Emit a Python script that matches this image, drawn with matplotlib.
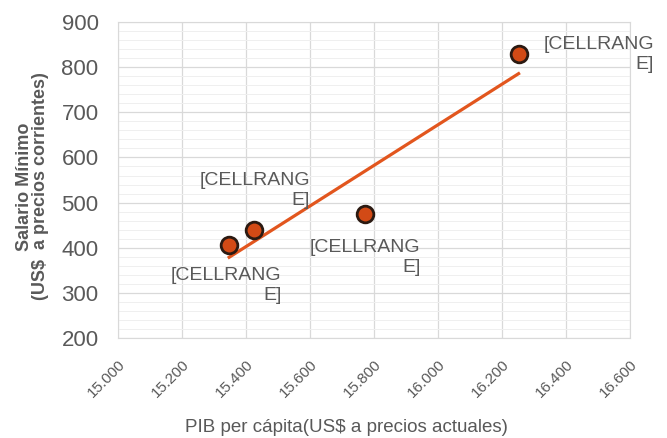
import numpy as np
import matplotlib.pyplot as plt
from matplotlib.ticker import MultipleLocator, FuncFormatter

plt.rcParams['font.family'] = ['Liberation Sans', 'DejaVu Sans']

# data
pib = [15347, 15426, 15772, 16251]
salario = [407, 439, 475, 828]
etiqueta = "[CELLRANG\nE]"

gray = "#595959"
grid_c = "#d9d9d9"

fig = plt.figure(figsize=(6.67, 4.38), dpi=100)
ax = fig.add_axes([0.177, 0.228, 0.768, 0.722])

# linear trend
m, b = np.polyfit(pib, salario, 1)
xt = np.array([min(pib), max(pib)])
ax.plot(xt, m * xt + b, color="#E2561E", lw=2.3, zorder=2)

ax.plot(pib, salario, "o", ms=12, mfc="#D24A16", mec="#2b1a12", mew=2, zorder=3)

# data labels
offs = [(-2, -16, "center", "top"), (0, 15, "center", "bottom"),
        (0, -18, "center", "top"), (18, 0, "left", "center")]
for x, y, (dx, dy, ha, va) in zip(pib, salario, offs):
    ax.annotate(etiqueta, (x, y), xytext=(dx, dy), textcoords="offset points",
                ha=ha, va=va, multialignment="right", fontsize=14,
                color=gray, linespacing=1.25)

ax.set_xlim(15000, 16600)
ax.set_ylim(200, 900)
ax.xaxis.set_major_locator(MultipleLocator(200))
ax.yaxis.set_major_locator(MultipleLocator(100))
ax.yaxis.set_minor_locator(MultipleLocator(20))
ax.xaxis.set_major_formatter(FuncFormatter(lambda v, p: f"{int(v):,}".replace(",", ".")))

ax.grid(True, which="major", color=grid_c, lw=0.9)
ax.grid(True, which="minor", axis="y", color="#efefef", lw=0.7)
ax.set_axisbelow(True)
for s in ax.spines.values():
    s.set_color(grid_c)

ax.tick_params(axis="both", which="both", length=0, colors=gray)
ax.tick_params(axis="y", labelsize=16, pad=14)
ax.tick_params(axis="x", labelsize=11, pad=14)
for lab in ax.get_xticklabels():
    lab.set_rotation(45)
    lab.set_ha("right")
    lab.set_rotation_mode("anchor")

ax.set_xlabel("PIB per cápita(US$ a precios actuales)", fontsize=13.5, color=gray)
ax.xaxis.set_label_coords(0.445, -0.255)
ax.set_ylabel("Salario Mínimo\n(US$  a precios corrientes)", fontsize=13, color=gray,
              fontweight="bold", linespacing=0.95)
ax.yaxis.set_label_coords(-0.135, 0.48)

fig.savefig("out.png", dpi=100)
